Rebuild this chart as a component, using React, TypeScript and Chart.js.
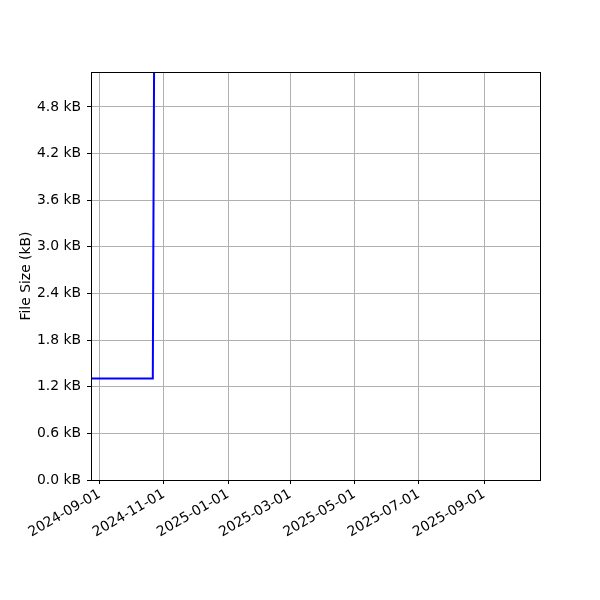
import React, { useEffect, useRef } from "react";
import { Chart, registerables } from "chart.js";

Chart.register(...registerables);

// Data (file size in kB over time)
const dates: string[] = [
  "2024-08-23T20:00:00Z",
  "2024-10-21T12:00:00Z",
  "2024-10-22T23:00:00Z",
  "2025-01-15T00:00:00Z",
  "2025-05-01T00:00:00Z",
  "2025-10-24T00:00:00Z",
];
const sizesKB: number[] = [1.307, 1.307, 6.1, 8.5, 11.0, 14.0];

const xTickDates: string[] = [
  "2024-09-01",
  "2024-11-01",
  "2025-01-01",
  "2025-03-01",
  "2025-05-01",
  "2025-07-01",
  "2025-09-01",
];
const yTicks: number[] = [0, 0.6, 1.2, 1.8, 2.4, 3.0, 3.6, 4.2, 4.8];

const xMin = Date.UTC(2024, 7, 23, 20);
const xMax = Date.UTC(2025, 9, 24, 2);
const yMin = 0;
const yMax = 5.25;

const FONT = "'DejaVu Sans', sans-serif";

const frame = {
  id: "frame",
  afterDraw(chart: any) {
    const { ctx, chartArea } = chart;
    ctx.save();
    ctx.strokeStyle = "#000";
    ctx.lineWidth = 1;
    ctx.strokeRect(
      Math.round(chartArea.left) + 0.5,
      Math.round(chartArea.top) + 0.5,
      Math.round(chartArea.right - chartArea.left),
      Math.round(chartArea.bottom - chartArea.top)
    );
    ctx.restore();
  },
};

export default function App() {
  const ref = useRef<HTMLCanvasElement | null>(null);
  useEffect(() => {
    if (!ref.current) return;
    const pts = dates.map((d, i) => ({ x: Date.parse(d), y: sizesKB[i] }));
    const chart = new Chart(ref.current, {
      type: "line",
      data: {
        datasets: [
          {
            data: pts,
            borderColor: "#0000ff",
            borderWidth: 2,
            pointRadius: 0,
            fill: false,
            tension: 0,
          },
        ],
      },
      options: {
        animation: false,
        responsive: false,
        maintainAspectRatio: false,
        layout: { padding: { left: 0, top: 72, right: 60, bottom: 0 } },
        plugins: { legend: { display: false }, tooltip: { enabled: false } },
        scales: {
          x: {
            type: "linear",
            min: xMin,
            max: xMax,
            afterBuildTicks: (s: any) => {
              s.ticks = xTickDates.map((d) => ({ value: Date.parse(d + "T00:00:00Z") }));
            },
            afterFit: (s: any) => {
              s.height = 120;
            },
            grid: { color: "#b0b0b0", lineWidth: 1, tickColor: "#000", tickLength: 4, drawTicks: true },
            border: { color: "#000", width: 1 },
            ticks: {
              autoSkip: false,
              minRotation: 30,
              maxRotation: 30,
              color: "#000",
              padding: 2,
              font: { family: FONT, size: 13.9 },
              callback: (v: any) => {
                const d = new Date(Number(v));
                const y = d.getUTCFullYear();
                const m = String(d.getUTCMonth() + 1).padStart(2, "0");
                const dd = String(d.getUTCDate()).padStart(2, "0");
                return `${y}-${m}-${dd}`;
              },
            },
          },
          y: {
            type: "linear",
            min: yMin,
            max: yMax,
            afterBuildTicks: (s: any) => {
              s.ticks = yTicks.map((v) => ({ value: v }));
            },
            afterFit: (s: any) => {
              s.width = 91;
            },
            grid: { color: "#b0b0b0", lineWidth: 1, tickColor: "#000", tickLength: 4, drawTicks: true },
            border: { color: "#000", width: 1 },
            title: {
              display: true,
              text: "File Size (kB)",
              color: "#000",
              font: { family: FONT, size: 13.9 },
              padding: { top: 18, bottom: 0 },
            },
            ticks: {
              color: "#000",
              padding: 6,
              font: { family: FONT, size: 13.9 },
              callback: (v: any) => `${Number(v).toFixed(1)} kB`,
            },
          },
        },
      },
      plugins: [frame],
    });
    return () => chart.destroy();
  }, []);
  return (
    <div style={{ position: "fixed", left: 0, top: 0, width: 600, height: 600, background: "#fff" }}>
      <canvas ref={ref} width={600} height={600} style={{ width: 600, height: 600 }} />
    </div>
  );
}
